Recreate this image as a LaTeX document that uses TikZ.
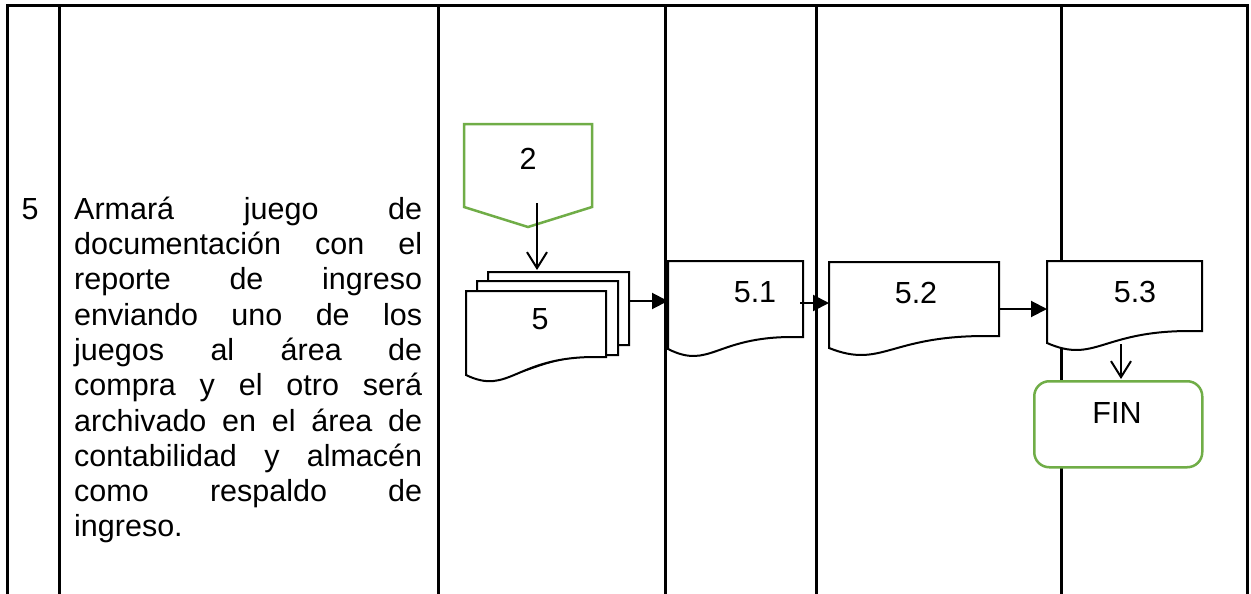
\documentclass[tikz,border=0pt]{standalone}
\usepackage{fontspec}
\setmainfont{Liberation Sans}
\usetikzlibrary{arrows.meta}
\definecolor{fgreen}{RGB}{112,173,71}
\newcommand\docshape[6][]{%
  \draw[docline,#1] (#2,#3) -- (#4,#3) -- (#4,#5) -- ({#4-0.08*(#4-#2)},#5)
    .. controls ({#2+0.35*(#4-#2)},#5) and ({#2+0.31*(#4-#2)},{#6+21}) .. (#2,#6) -- cycle;}
\newcommand\jline[1]{\leavevmode\hbox to 348pt{#1}}
\begin{document}
\begin{tikzpicture}[x=1pt,y=-1pt,
  tableline/.style={line width=3pt},
  docline/.style={draw=black,line width=2pt,fill=white},
  greenline/.style={draw=fgreen,line width=2.5pt,fill=white},
  flowarrow/.style={line width=2pt,-{Triangle[length=16pt,width=16pt]}},
  downarrow/.style={line width=2pt,-{Straight Barb[length=16pt,width=20pt,line width=2pt]}},
  lbl/.style={font=\fontsize{30.5}{35.3}\selectfont,inner sep=0pt}]
\useasboundingbox (0,0) rectangle (1251,594);
\fill[white] (0,0) rectangle (1251,594);
% table
\draw[tableline] (7,594) -- (7,6) -- (1247,6) -- (1247,594);
\foreach \cx in {59,438,665,816,1061}{\draw[tableline] (\cx,6) -- (\cx,594);}
% left column texts
\node[lbl,anchor=base] (num) at (30,219) {5};
\node[lbl,anchor=north west,text width=348pt,align=left] (desc) at (74,189) {%
\jline{\rule{0pt}{30pt}Armará\hfill juego\hfill de}\\
\jline{documentación\hfill con\hfill el}\\
\jline{reporte\hfill de\hfill ingreso}\\
\jline{enviando\hfill uno\hfill de\hfill los}\\
\jline{juegos\hfill al\hfill área\hfill de}\\
\jline{compra\hfill y\hfill el\hfill otro\hfill será}\\
\jline{archivado\hfill en\hfill el\hfill área\hfill de}\\
\jline{contabilidad\hfill y\hfill almacén}\\
\jline{como\hfill respaldo\hfill de}\\
ingreso.};
% off-page connector
\draw[greenline] (464,124) -- (592,124) -- (592,207) -- (528,227) -- (464,207) -- cycle;
\node[lbl] (t2) at (528,159) {2};
% multi-document
\docshape{488}{272}{629}{345}{360}
\docshape{477}{281}{618}{355}{368}
\docshape{466}{291}{606}{357}{375}
\node[lbl] (t5) at (540,319) {5};
% documents
\docshape{668}{261}{803}{337}{349}
\node[lbl] (t51) at (755,292) {5.1};
\docshape{829}{262}{999}{336}{348}
\node[lbl] (t52) at (916,293) {5.2};
\docshape{1047}{261}{1202}{331}{343}
\node[lbl] (t53) at (1135,292) {5.3};
% FIN
\node[greenline,rounded corners=15pt,minimum width=168pt,minimum height=86pt,inner sep=0pt,anchor=north west] (fin) at (1033,380) {};
\node[lbl] (tfin) at (1117,413) {FIN};
% connector coordinates
\coordinate (c2out) at (537,203);
\coordinate (m5in) at (537,270);
\coordinate (m5out) at (629,301);
\coordinate (d51in) at (668,301);
\coordinate (d51out) at (800,303);
\coordinate (d52in) at (829,303);
\coordinate (d52out) at (999,309);
\coordinate (d53in) at (1047,309);
\coordinate (d53out) at (1121,344);
\coordinate (finin) at (1121,379);
\draw[downarrow] (c2out) -- (m5in);
\draw[flowarrow] (m5out) -- (d51in);
\draw[flowarrow] (d51out) -- (d52in);
\draw[flowarrow] (d52out) -- (d53in);
\draw[downarrow] (d53out) -- (finin);
\end{tikzpicture}
\end{document}
